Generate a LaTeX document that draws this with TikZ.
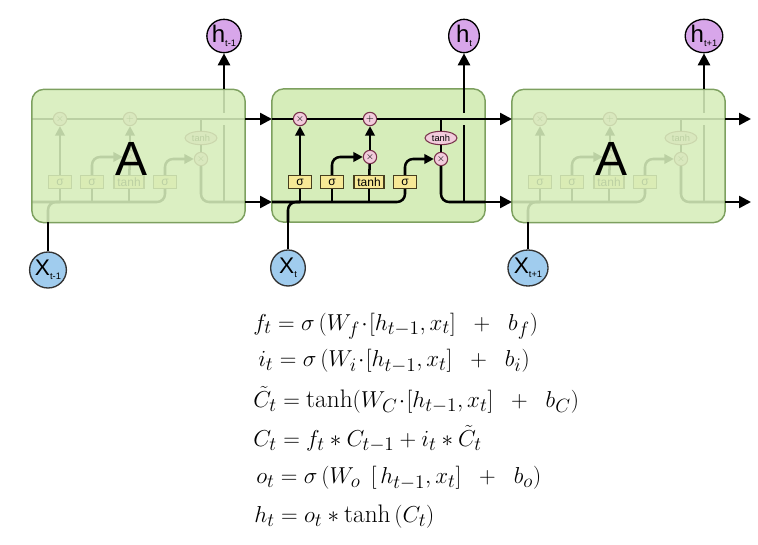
\documentclass[tikz,border=0pt]{standalone}
\usepackage{amsmath,amssymb}
\usepackage{fontspec}
\setsansfont{Liberation Sans}
\usetikzlibrary{arrows.meta,shapes.geometric}

\definecolor{cellfill}{RGB}{214,237,186}
\definecolor{cellline}{RGB}{125,160,95}
\definecolor{gatefill}{RGB}{247,233,150}
\definecolor{gateline}{RGB}{70,62,30}
\definecolor{opfill}{RGB}{242,204,220}
\definecolor{opline}{RGB}{120,50,75}
\definecolor{hfill}{RGB}{216,166,234}
\definecolor{xfill}{RGB}{160,204,238}

\tikzset{
	wire/.style={line width=1.9pt},
	arr/.style={wire, -{Triangle[length=7pt,width=7pt]}},
	bigarr/.style={wire, -{Triangle[length=9pt,width=9pt]}},
	cellbox/.style={draw=cellline, fill=cellfill, line width=1.1pt, rounded corners=9pt, minimum width=160pt, minimum height=100pt},
	gate/.style={draw=gateline, fill=gatefill, line width=0.8pt, minimum width=17pt, minimum height=10pt, inner xsep=2.5pt, inner ysep=0pt, font=\sffamily\fontsize{9}{9}\selectfont},
	op/.style={circle, draw=opline, fill=opfill, line width=0.8pt, minimum size=10pt, inner sep=0pt, font=\fontsize{7}{7}\selectfont},
	tanhop/.style={ellipse, draw=opline, fill=opfill, line width=0.8pt, minimum width=24pt, minimum height=10pt, inner sep=0pt, font=\sffamily\fontsize{7}{7}\selectfont},
	hnode/.style={ellipse, draw=black, fill=hfill, line width=1pt, minimum width=23pt, minimum height=25pt, inner sep=0pt, font=\sffamily\fontsize{18}{18}\selectfont},
	xnode/.style={ellipse, draw=black!80, fill=xfill, line width=1pt, minimum width=26pt, minimum height=27pt, inner sep=0pt, font=\sffamily\fontsize{17}{17}\selectfont},
	bigA/.style={font=\sffamily\fontsize{36}{40}\selectfont},
	eq/.style={anchor=west, inner sep=0pt, font=\fontsize{19}{22}\selectfont}
}

\newcommand{\sublab}[2]{#1\raisebox{-0.3ex}{\fontsize{7}{7}\selectfont #2}}

% one cell, drawn at the middle position
\newcommand{\lstmwires}{
	\coordinate (cin) at (272,119); \coordinate (cout) at (485,119);
	\coordinate (hin) at (272,202); \coordinate (hout) at (485,202);
	\coordinate (tap) at (441,119);
	\coordinate (xin) at (288,222); \coordinate (xjoin) at (300,202);
	\coordinate (hj) at (464,202); \coordinate (gaplo) at (464,125);
	\coordinate (gaphi) at (464,113); \coordinate (hup) at (464,89);
	\node[op] (fx) at (300,119) {$\times$};
	\node[op] (pl) at (370,119) {$+$};
	\node[gate] (g1) at (300,182) {σ};
	\node[gate] (g2) at (332,182) {σ};
	\node[gate] (g3) at (369,182) {tanh};
	\node[gate] (g4) at (405,182) {σ};
	\node[op] (ix) at (370,157) {$\times$};
	\node[tanhop] (th) at (441,138) {tanh};
	\node[op] (ox) at (441,159) {$\times$};
	\draw[wire] (cin) -- (fx); \draw[wire] (fx) -- (pl); \draw[wire] (pl) -- (cout);
	\draw[wire] (tap) -- (th); \draw[wire] (th) -- (ox);
	\draw[wire, rounded corners=6pt] (hin) -| (g4);
	\draw[wire, rounded corners=6pt] (xin) |- (xjoin);
	\draw[wire] (g1 |- hin) -- (g1);
	\draw[wire] (g2 |- hin) -- (g2);
	\draw[wire] (g3 |- hin) -- (g3);
	\draw[arr] (g1) -- (fx);
	\draw[arr, rounded corners=6pt] (g2) |- (ix);
	\draw[wire] (g3) -- (ix);
	\draw[arr] (ix) -- (pl);
	\draw[arr, rounded corners=6pt] (g4) |- (ox);
	\draw[wire, rounded corners=6pt] (ox) |- (hout);
	\draw[wire] (hj) -- (gaplo); \draw[wire] (gaphi) -- (hup);
}

\begin{document}
\begin{tikzpicture}[x=0.75pt, y=-0.75pt]
	\useasboundingbox (0,0) rectangle (758,545);

	% middle cell
	\node[cellbox] (cellM) at (378.5,155.5) {};
	\begin{scope}[name prefix=M-]
		\lstmwires
	\end{scope}

	% left and right cells, faded
	\begin{scope}[shift={(-240,0)}, name prefix=L-]
		\lstmwires
	\end{scope}
	\node[cellbox, fill opacity=0.88] (cellL) at (138.5,156) {};
	\node[bigA] (aL) at (132,159) {A};
	\begin{scope}[shift={(240,0)}, name prefix=R-]
		\lstmwires
	\end{scope}
	\node[cellbox, fill opacity=0.88] (cellR) at (618.5,156) {};
	\node[bigA] (aR) at (612,159) {A};

	% links between cells
	\coordinate (cend) at (751,119); \coordinate (hend) at (751,202);
	\draw[bigarr] (L-cout) -- (M-cin);
	\draw[bigarr] (L-hout) -- (M-hin);
	\draw[bigarr] (M-cout) -- (R-cin);
	\draw[bigarr] (M-hout) -- (R-hin);
	\draw[bigarr] (R-cout) -- (cend);
	\draw[bigarr] (R-hout) -- (hend);

	% outputs
	\node[hnode] (hL) at (224,36) {\sublab{h}{t-1}};
	\node[hnode] (hM) at (464,36) {\sublab{h}{t}};
	\node[hnode] (hR) at (704,36) {\sublab{h}{t+1}};
	\draw[bigarr] (L-hup) -- (hL);
	\draw[bigarr] (M-hup) -- (hM);
	\draw[bigarr] (R-hup) -- (hR);

	% inputs
	\node[xnode] (xL) at (48,270) {\sublab{X}{t-1}};
	\node[xnode] (xM) at (288,268) {\sublab{X}{t}};
	\node[xnode] (xR) at (528,268) {\sublab{X}{t+1}};
	\draw[wire] (xL) -- (L-xin);
	\draw[wire] (xM) -- (M-xin);
	\draw[wire] (xR) -- (R-xin);

	% equations
	\node[eq] (eqf) at (253,326) {$f_t = \sigma\,(W_f\!\cdot\![h_{t-1},x_t]\;\;+\;\;b_f)$};
	\node[eq] (eqi) at (258,361) {$i_t = \sigma\,(W_i\!\cdot\![h_{t-1},x_t]\;\;+\;\;b_i)$};
	\node[eq] (eqc) at (253,400) {$\tilde{C}_t = \tanh(W_C\!\cdot\![h_{t-1},x_t]\;\;+\;\;b_C)$};
	\node[eq] (eqs) at (253,439) {$C_t = f_t * C_{t-1} + i_t * \tilde{C}_t$};
	\node[eq] (eqo) at (256,478) {$o_t = \sigma\,(W_o\;\,[\,h_{t-1},x_t]\;\;+\;\;b_o)$};
	\node[eq] (eqh) at (254,517) {$h_t = o_t * \tanh\,(C_t)$};
\end{tikzpicture}
\end{document}
